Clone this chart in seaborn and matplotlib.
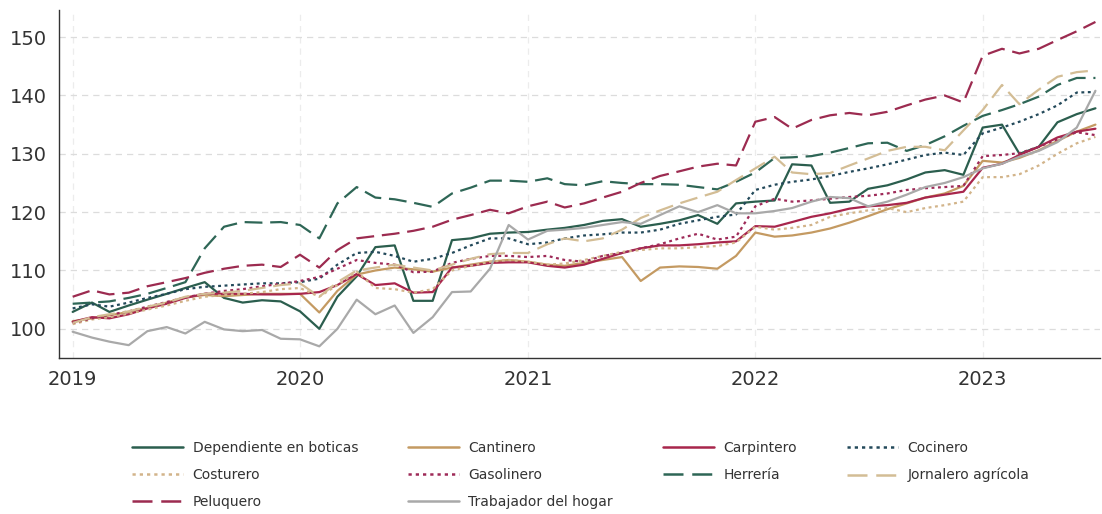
import pandas as pd
import matplotlib.pyplot as plt
import matplotlib.dates as mdates
from matplotlib.lines import Line2D
import seaborn as sns

# Monthly index (base ene-2019 ~ 100), ene-2019 .. jul-2023
meses = pd.date_range("2019-01-01", "2023-07-01", freq="MS")

dependiente = [102.9, 104.5, 102.9, 104.0, 105.0, 106.0, 107.0, 108.0, 105.3, 104.5,
               104.9, 104.7, 103.0, 100.0, 105.5, 109.0, 114.0, 114.3, 104.8, 104.8,
               115.2, 115.5, 116.3, 116.5, 116.6, 117.0, 117.3, 117.8, 118.5, 118.8,
               117.5, 118.0, 118.6, 119.5, 118.0, 121.5, 121.8, 122.0, 128.2, 128.0,
               121.6, 121.8, 124.0, 124.6, 125.6, 126.8, 127.2, 126.4, 134.5, 135.0,
               130.0, 131.2, 135.4, 136.8, 137.8]
cantinero = [101.3, 101.8, 102.3, 102.9, 103.6, 104.5, 105.4, 105.8, 105.6, 105.8,
             106.0, 106.0, 106.0, 102.8, 106.5, 109.3, 110.0, 110.5, 110.2, 109.8,
             110.5, 111.0, 111.5, 111.8, 111.5, 111.0, 110.8, 111.3, 111.8, 112.3,
             108.2, 110.5, 110.7, 110.6, 110.3, 112.5, 116.5, 115.8, 116.0, 116.5,
             117.2, 118.2, 119.3, 120.5, 121.5, 122.5, 123.2, 124.5, 128.8, 128.5,
             129.3, 130.6, 132.2, 133.8, 135.0]
carpintero = [101.2, 102.0, 101.8, 102.5, 103.5, 104.3, 105.3, 106.0, 106.0, 106.0,
              105.9, 105.9, 106.0, 106.3, 107.5, 109.4, 107.5, 107.8, 106.2, 106.3,
              110.5, 110.8, 111.3, 111.4, 111.4, 110.8, 110.5, 111.0, 112.0, 113.0,
              113.8, 114.3, 114.3, 114.5, 114.8, 115.0, 117.6, 117.5, 118.3, 119.2,
              119.8, 120.6, 121.0, 121.2, 121.6, 122.5, 123.0, 123.5, 127.6, 128.3,
              129.8, 131.2, 132.8, 133.8, 134.3]
cocinero = [103.5, 104.2, 103.8, 104.5, 105.3, 106.0, 106.8, 107.2, 107.4, 107.6,
            107.8, 107.8, 108.0, 108.6, 111.0, 113.0, 113.2, 112.5, 111.5, 112.0,
            113.0, 114.3, 115.5, 115.5, 114.5, 114.8, 115.5, 116.0, 116.2, 116.5,
            116.5, 117.0, 118.0, 118.6, 119.2, 119.6, 123.8, 124.7, 125.2, 125.6,
            126.2, 126.9, 127.5, 128.2, 129.0, 129.8, 130.2, 129.8, 133.5, 134.5,
            135.5, 136.8, 138.3, 140.5, 140.6]
costurero = [100.8, 101.6, 102.0, 102.6, 103.3, 104.0, 104.8, 105.5, 105.8, 106.0,
             106.3, 106.8, 107.0, 105.5, 107.5, 109.8, 107.0, 106.8, 106.2, 106.8,
             110.0, 110.8, 111.5, 111.8, 111.5, 111.0, 111.2, 111.8, 112.5, 113.2,
             113.5, 113.8, 113.8, 114.0, 114.2, 114.8, 117.5, 117.0, 117.3, 117.8,
             119.2, 119.8, 120.3, 120.7, 120.0, 120.7, 121.2, 121.8, 126.0, 126.0,
             126.5, 128.0, 130.0, 131.8, 132.9]
gasolinero = [101.0, 101.8, 102.4, 103.0, 103.8, 104.6, 105.4, 106.0, 106.5, 106.8,
              107.3, 107.7, 108.2, 108.9, 110.3, 111.8, 111.3, 111.0, 109.7, 109.8,
              111.3, 112.0, 112.5, 112.5, 112.3, 112.5, 111.8, 111.5, 112.5, 113.0,
              113.8, 114.5, 115.5, 116.3, 115.3, 115.8, 121.0, 122.3, 121.8, 122.0,
              122.3, 122.6, 122.8, 123.2, 123.8, 124.1, 124.3, 124.5, 129.6, 129.8,
              130.1, 131.2, 132.5, 133.7, 133.2]
herreria = [104.3, 104.5, 104.7, 105.3, 106.0, 107.0, 108.0, 113.8, 117.5, 118.3,
            118.2, 118.3, 117.8, 115.5, 121.5, 124.3, 122.5, 122.2, 121.6, 120.9,
            123.2, 124.2, 125.4, 125.4, 125.2, 125.8, 124.8, 124.6, 125.3, 125.0,
            124.8, 124.8, 124.7, 124.3, 123.9, 125.2, 126.8, 129.3, 129.4, 129.6,
            130.2, 131.0, 131.8, 131.9, 130.5, 131.5, 133.0, 134.8, 136.5, 137.5,
            138.5, 139.8, 141.8, 143.0, 143.0]
jornalero = [101.0, 102.0, 102.5, 103.0, 103.8, 104.5, 105.5, 106.0, 106.2, 106.5,
             107.0, 107.5, 107.8, 105.5, 108.0, 110.0, 110.5, 111.0, 110.5, 110.0,
             111.0, 112.0, 112.8, 113.0, 113.0, 114.5, 115.5, 115.0, 115.5, 117.0,
             119.0, 120.3, 121.5, 122.5, 123.5, 125.5, 127.5, 129.5, 126.8, 126.5,
             126.7, 128.0, 129.2, 130.5, 131.2, 131.2, 130.6, 134.0, 137.5, 141.8,
             138.5, 141.0, 143.2, 144.0, 144.3]
peluquero = [105.5, 106.6, 105.9, 106.2, 107.3, 108.0, 108.7, 109.6, 110.3, 110.8,
             111.0, 110.6, 112.7, 110.5, 113.5, 115.5, 115.9, 116.3, 116.8, 117.5,
             118.7, 119.5, 120.4, 119.8, 121.0, 121.8, 120.8, 121.5, 122.5, 123.5,
             125.0, 126.2, 127.0, 127.8, 128.3, 128.0, 135.5, 136.3, 134.3, 135.8,
             136.6, 137.0, 136.6, 137.2, 138.3, 139.3, 140.0, 138.8, 146.8, 148.0,
             147.2, 148.0, 149.5, 151.0, 152.6]
trabajador = [99.5, 98.5, 97.8, 97.2, 99.6, 100.3, 99.2, 101.2, 99.9, 99.6,
              99.8, 98.3, 98.2, 97.0, 100.0, 105.0, 102.5, 104.0, 99.3, 102.0,
              106.3, 106.4, 110.3, 117.8, 115.3, 116.8, 117.0, 117.3, 117.8, 118.3,
              118.0, 119.5, 121.0, 120.0, 121.2, 119.8, 119.8, 120.2, 120.7, 121.8,
              122.6, 122.4, 121.0, 121.8, 123.0, 124.3, 125.0, 126.0, 127.5, 128.3,
              129.5, 130.5, 132.0, 134.5, 140.8]

oficios = ["Dependiente en boticas", "Cantinero", "Carpintero", "Cocinero",
           "Costurero", "Gasolinero", "Herrería", "Jornalero agrícola",
           "Peluquero", "Trabajador del hogar"]
valores = [dependiente, cantinero, carpintero, cocinero, costurero,
           gasolinero, herreria, jornalero, peluquero, trabajador]

colores = {
    "Dependiente en boticas": "#2B5E4E",
    "Cantinero": "#C49A62",
    "Carpintero": "#A8264C",
    "Cocinero": "#23495A",
    "Costurero": "#D2B48A",
    "Gasolinero": "#9E2A58",
    "Herrería": "#2E6656",
    "Jornalero agrícola": "#D3BD95",
    "Peluquero": "#9C2B50",
    "Trabajador del hogar": "#A9A9A9",
}
solida, rayas, puntos = "", (8, 3.5), (1.3, 1.6)
trazos = {
    "Dependiente en boticas": solida, "Cantinero": solida, "Carpintero": solida,
    "Cocinero": puntos, "Costurero": puntos, "Gasolinero": puntos,
    "Herrería": rayas, "Jornalero agrícola": rayas, "Peluquero": rayas,
    "Trabajador del hogar": solida,
}

df = pd.DataFrame({"fecha": meses, **dict(zip(oficios, valores))})
df = df.melt(id_vars="fecha", var_name="oficio", value_name="indice")

sns.set_style("white")
plt.rcParams["font.family"] = ["DejaVu Sans"]

fig = plt.figure(figsize=(11.02, 5.14), dpi=100)
ax = fig.add_axes([0.0535, 0.3035, 0.9445, 0.6765])

sns.lineplot(data=df, x="fecha", y="indice", hue="oficio", style="oficio",
             hue_order=oficios, style_order=oficios, palette=colores,
             dashes=trazos, linewidth=1.6, legend=False, ax=ax)

ax.set_xlim(pd.Timestamp("2018-12-10"), pd.Timestamp("2023-07-08"))
ax.set_ylim(95, 154.6)
ax.set_yticks([100, 110, 120, 130, 140, 150])
ax.xaxis.set_major_locator(mdates.YearLocator())
ax.xaxis.set_major_formatter(mdates.DateFormatter("%Y"))
ax.set_xlabel("")
ax.set_ylabel("")

ax.grid(True, axis="y", color="#dcdcdc", linestyle=(0, (5, 4)), linewidth=0.9)
ax.grid(True, axis="x", color="#ececec", linestyle=(0, (5, 4)), linewidth=0.9)
ax.set_axisbelow(True)
sns.despine(ax=ax)
for s in ["left", "bottom"]:
    ax.spines[s].set_color("#333333")
    ax.spines[s].set_linewidth(1.0)
ax.tick_params(axis="both", labelsize=14, colors="#333333", length=5, width=1)

# legend, filled row by row in 4 columns
orden = ["Dependiente en boticas", "Costurero", "Peluquero",
         "Cantinero", "Gasolinero", "Trabajador del hogar",
         "Carpintero", "Herrería",
         "Cocinero", "Jornalero agrícola"]
handles = []
for o in orden:
    h = Line2D([], [], color=colores[o], linewidth=1.8)
    if trazos[o]:
        h.set_dashes(trazos[o])
    handles.append(h)
fig.legend(handles, orden, loc="center", bbox_to_anchor=(0.527, 0.076), ncol=4,
           frameon=False, fontsize=10, handlelength=3.7, handletextpad=0.65,
           columnspacing=3.6, labelspacing=0.95, labelcolor="#333333")

fig.savefig("out.png", dpi=100)
